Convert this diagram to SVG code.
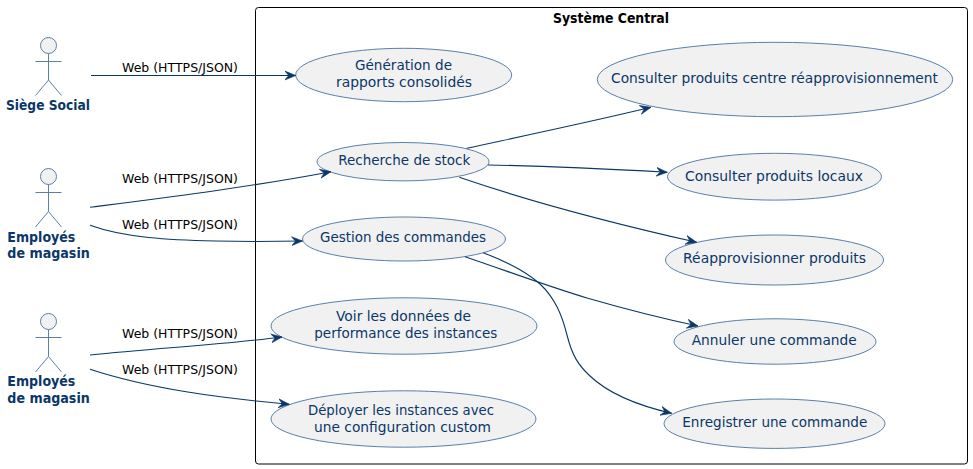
<svg xmlns="http://www.w3.org/2000/svg" width="973" height="469" viewBox="0 0 973 469">
<style>
text{font-family:"DejaVu Sans",Verdana,sans-serif;dominant-baseline:auto}
.uc ellipse{fill:#f1f1f1;stroke:#5b7fa8;stroke-width:1}
.uc text{font-size:14.500px;fill:#0a3768}
.actor circle{fill:#f1f1f1;stroke:#5b7fa8;stroke-width:1}
.actor path{fill:none;stroke:#5b7fa8;stroke-width:1}
.actor text{font-size:14px;font-weight:bold;fill:#0a3768}
.c path{fill:none;stroke:#0a3768;stroke-width:1.1;marker-end:url(#arrow)}
.lab text{font-size:12.500px;fill:#000}
</style>
<defs><marker id="arrow" markerUnits="userSpaceOnUse" markerWidth="12" markerHeight="11" refX="11" refY="5.500" orient="auto"><polygon points="0,1 11,5.500 0,10 4,5.500" fill="#0a3768" stroke="#0a3768" stroke-width="0.600"/></marker></defs>
<g id="frame"><rect x="255.500" y="7.500" width="712" height="456.500" rx="3" ry="3" fill="#fff" stroke="#000" stroke-width="1"/><text x="553" y="23" font-size="14" font-weight="bold" fill="#000" textLength="116" lengthAdjust="spacingAndGlyphs">Système Central</text></g>
<g id="uc1" class="uc"><ellipse cx="403.700" cy="75" rx="108" ry="26.700"/><text x="355" y="70" textLength="97" lengthAdjust="spacingAndGlyphs">Génération de</text><text x="336" y="87.300" textLength="136" lengthAdjust="spacingAndGlyphs">rapports consolidés</text></g>
<g id="uc2" class="uc"><ellipse cx="775" cy="79.500" rx="177.700" ry="37.200"/><text x="611" y="83.300" textLength="327" lengthAdjust="spacingAndGlyphs">Consulter produits centre réapprovisionnement</text></g>
<g id="uc3" class="uc"><ellipse cx="403" cy="161.700" rx="86" ry="19.200"/><text x="338.300" y="165" textLength="132" lengthAdjust="spacingAndGlyphs">Recherche de stock</text></g>
<g id="uc4" class="uc"><ellipse cx="774.500" cy="176.700" rx="107" ry="23.400"/><text x="685" y="180.700" textLength="178" lengthAdjust="spacingAndGlyphs">Consulter produits locaux</text></g>
<g id="uc5" class="uc"><ellipse cx="404" cy="239" rx="101.500" ry="22"/><text x="320" y="242.300" textLength="166" lengthAdjust="spacingAndGlyphs">Gestion des commandes</text></g>
<g id="uc6" class="uc"><ellipse cx="774.500" cy="260" rx="109" ry="25"/><text x="683" y="263" textLength="183" lengthAdjust="spacingAndGlyphs">Réapprovisionner produits</text></g>
<g id="uc7" class="uc"><ellipse cx="404" cy="326" rx="133" ry="28.200"/><text x="336" y="321" textLength="135" lengthAdjust="spacingAndGlyphs">Voir les données de</text><text x="314.300" y="338.300" textLength="183" lengthAdjust="spacingAndGlyphs">performance des instances</text></g>
<g id="uc8" class="uc"><ellipse cx="775" cy="341.500" rx="101" ry="22.700"/><text x="691.700" y="345" textLength="165" lengthAdjust="spacingAndGlyphs">Annuler une commande</text></g>
<g id="uc9" class="uc"><ellipse cx="403.500" cy="419" rx="132.500" ry="28.200"/><text x="308" y="415" textLength="186" lengthAdjust="spacingAndGlyphs">Déployer les instances avec</text><text x="314" y="431.700" textLength="177" lengthAdjust="spacingAndGlyphs">une configuration custom</text></g>
<g id="uc10" class="uc"><ellipse cx="774.500" cy="423.700" rx="110.500" ry="24.700"/><text x="682.300" y="427.300" textLength="185" lengthAdjust="spacingAndGlyphs">Enregistrer une commande</text></g>
<g id="a1" class="actor"><circle cx="48.500" cy="45.500" r="8"/><path d="M48.500 53.500V80M35.500 61.500H61.500M35.500 95.500L48.500 80L61.500 95.500"/><text x="6" y="110" textLength="84" lengthAdjust="spacingAndGlyphs">Siège Social</text></g>
<g id="a2" class="actor"><circle cx="48.500" cy="176.500" r="8"/><path d="M48.500 184.500V211.500M35.500 192.500H61.500M35.500 227L48.500 211.500L61.500 227"/><text x="7.300" y="241.700" textLength="68" lengthAdjust="spacingAndGlyphs">Employés</text><text x="7.300" y="258.300" textLength="82.500" lengthAdjust="spacingAndGlyphs">de magasin</text></g>
<g id="a3" class="actor"><circle cx="48.500" cy="321.500" r="8"/><path d="M48.500 329.500V356.500M35.500 337.500H61.500M35.500 372L48.500 356.500L61.500 372"/><text x="7.300" y="386" textLength="68" lengthAdjust="spacingAndGlyphs">Employés</text><text x="7.300" y="402.700" textLength="82.500" lengthAdjust="spacingAndGlyphs">de magasin</text></g>
<g id="connectors" class="c">
<path d="M91 75.500H295.700"/>
<path d="M90 207.300C170 197 250 187 331 171.700"/>
<path d="M90 225.300C125 238 170 240 215 241C245 241.700 275 241.500 302.500 241"/>
<path d="M90 355C155 348 220 345 282 337"/>
<path d="M90 369.300C150 389 220 398 289.300 404.300"/>
<path d="M466.700 148.300C528 135 590 122 651 107.300"/>
<path d="M488 165C548 166 608 169 667.300 172.300"/>
<path d="M459.300 177.300C540 205 620 225 696.700 242.300"/>
<path d="M465 256.700C510 272 550 287 587 298C625 309 660 318 698 326"/>
<path d="M483.300 252.700C510 263 530 275 540 284C555 298 562 315 567 335C572 355 578 365 590 376C610 395 640 406 671.700 413.300"/>
</g>
<g id="labels" class="lab"><text x="122" y="72.300" textLength="116" lengthAdjust="spacingAndGlyphs">Web (HTTPS/JSON)</text><text x="122" y="183.300" textLength="116" lengthAdjust="spacingAndGlyphs">Web (HTTPS/JSON)</text><text x="122" y="229.300" textLength="116" lengthAdjust="spacingAndGlyphs">Web (HTTPS/JSON)</text><text x="122" y="338.300" textLength="116" lengthAdjust="spacingAndGlyphs">Web (HTTPS/JSON)</text><text x="122" y="374" textLength="116" lengthAdjust="spacingAndGlyphs">Web (HTTPS/JSON)</text></g>
</svg>
